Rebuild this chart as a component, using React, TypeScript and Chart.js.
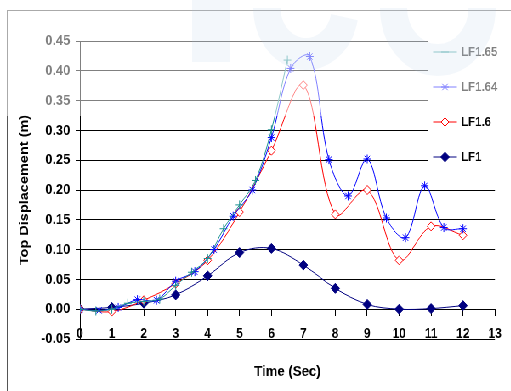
import React, { useEffect, useRef } from 'react';
import { Chart, registerables } from 'chart.js';
import { drawPoint } from 'chart.js/helpers';

Chart.register(...registerables);

// ---- data ----
const seriesNames = ['LF1.65', 'LF1.64', 'LF1.6', 'LF1'];

const timeLF165 = [0, 0.5, 1, 1.5, 2, 2.5, 3, 3.5, 4, 4.5, 5, 5.5, 6, 6.5];
const dispLF165 = [0, -0.003, 0, 0.01, 0.013, 0.017, 0.04, 0.062, 0.085, 0.135, 0.175, 0.216, 0.301, 0.418];

const timeLF164 = [0, 0.6, 1.2, 1.8, 2.4, 3, 3.6, 4.2, 4.8, 5.4, 6, 6.6, 7.2, 7.8, 8.4, 9, 9.6, 10.2, 10.8, 11.4, 12];
const dispLF164 = [0, -0.002, 0.003, 0.016, 0.015, 0.047, 0.063, 0.1, 0.156, 0.2, 0.288, 0.404, 0.424, 0.251, 0.19, 0.252, 0.153, 0.12, 0.207, 0.137, 0.135];

const timeLF16 = [0, 1, 2, 3, 4, 5, 6, 7, 8, 9, 10, 11, 12];
const dispLF16 = [0, -0.004, 0.015, 0.043, 0.082, 0.163, 0.266, 0.376, 0.159, 0.2, 0.082, 0.139, 0.124];

const timeLF1 = [0, 1, 2, 3, 4, 5, 6, 7, 8, 9, 10, 11, 12];
const dispLF1 = [0, 0.003, 0.01, 0.024, 0.056, 0.095, 0.102, 0.074, 0.035, 0.008, 0, 0.001, 0.006];

const xMin = 0;
const xMax = 13;
const xStep = 1;
const yMin = -0.05;
const yMax = 0.45;
const yStep = 0.05;

const xTitle = 'Time (Sec)';
const yTitle = 'Top Displacement (m)';

// ---- layout / style ----
const SX = 0.85; // horizontal squeeze of the original picture
const H = 391;
const W = Math.round(511 / SX);
const FONT = "'Liberation Sans', Arial, sans-serif";

const toPoints = (xs: number[], ys: number[]) => xs.map((x, i) => ({ x, y: ys[i] }));

const framePlugin = {
  id: 'frame',
  beforeDraw(chart: any) {
    const ctx = chart.ctx;
    ctx.save();
    ctx.fillStyle = '#fff';
    ctx.fillRect(0, 0, chart.width, chart.height);
    ctx.strokeStyle = '#555';
    ctx.lineWidth = 1;
    ctx.strokeRect(8.5, 10.5, chart.width + 20, chart.height + 20);
    ctx.restore();
  },
};

const overlayPlugin = {
  id: 'overlay',
  afterDraw(chart: any) {
    const ctx = chart.ctx;
    const area = chart.chartArea;
    ctx.save();
    // legend
    const boxX = 503;
    ctx.fillStyle = '#fff';
    ctx.fillRect(boxX, 33, area.right - boxX + 8, 142);
    chart.data.datasets.forEach((ds: any, i: number) => {
      const y = 52 + i * 35;
      ctx.strokeStyle = ds.borderColor;
      ctx.lineWidth = 1;
      ctx.beginPath();
      ctx.moveTo(509.5, y);
      ctx.lineTo(537.5, y);
      ctx.stroke();
      ctx.fillStyle = ds.backgroundColor;
      ctx.strokeStyle = ds.borderColor;
      drawPoint(ctx, { pointStyle: ds.pointStyle, radius: ds.pointRadius, borderWidth: 1, rotation: 0 } as any, 523.5, y);
      ctx.fillStyle = '#000';
      ctx.font = `bold 13.5px ${FONT}`;
      ctx.textBaseline = 'middle';
      ctx.textAlign = 'left';
      ctx.fillText(ds.label, 542.5, y + 0.5);
    });
    // faded top band
    ctx.fillStyle = 'rgba(255,255,255,0.5)';
    ctx.fillRect(0, 0, chart.width, 116);
    // faint watermark
    ctx.beginPath();
    ctx.rect(0, 0, chart.width, 116);
    ctx.clip();
    ctx.fillStyle = 'rgba(170,195,225,0.14)';
    ctx.strokeStyle = 'rgba(170,195,225,0.14)';
    ctx.fillRect(226, 0, 45, 62);
    ctx.lineWidth = 32;
    ctx.beginPath();
    ctx.arc(360, 8, 46, 0.2, Math.PI * 1.0);
    ctx.stroke();
    ctx.beginPath();
    ctx.arc(515, 8, 52, 0, Math.PI);
    ctx.stroke();
    ctx.restore();
  },
};

export default function App() {
  const ref = useRef<HTMLCanvasElement>(null);
  useEffect(() => {
    if (!ref.current) return;
    const chart = new Chart(ref.current, {
      type: 'line',
      data: {
        datasets: [
          {
            label: seriesNames[0],
            data: toPoints(timeLF165, dispLF165),
            borderColor: '#1a8f8f',
            backgroundColor: '#1a8f8f',
            pointStyle: 'cross',
            pointRadius: 4.5,
          },
          {
            label: seriesNames[1],
            data: toPoints(timeLF164, dispLF164),
            borderColor: '#0000ff',
            backgroundColor: '#0000ff',
            pointStyle: 'star',
            pointRadius: 4.5,
          },
          {
            label: seriesNames[2],
            data: toPoints(timeLF16, dispLF16),
            borderColor: '#ff0000',
            backgroundColor: '#ffffff',
            pointStyle: 'rectRot',
            pointRadius: 4.5,
          },
          {
            label: seriesNames[3],
            data: toPoints(timeLF1, dispLF1),
            borderColor: '#000080',
            backgroundColor: '#000080',
            pointStyle: 'rectRot',
            pointRadius: 5,
          },
        ] as any,
      },
      options: {
        responsive: false,
        animation: false,
        devicePixelRatio: 1,
        layout: { padding: { left: 0, top: 41, right: 17.5, bottom: 52 } },
        elements: {
          line: { tension: 0.35, borderWidth: 1, fill: false },
          point: { borderWidth: 1, hoverRadius: 5 },
        },
        plugins: { legend: { display: false }, tooltip: { enabled: false } },
        scales: {
          x: {
            type: 'linear',
            min: xMin,
            max: xMax,
            position: { y: 0 } as any,
            ticks: {
              stepSize: xStep,
              autoSkip: false,
              maxRotation: 0,
              color: '#000',
              padding: 11,
              font: { family: FONT, size: 14, weight: 'bold' },
            },
            grid: { drawOnChartArea: false, drawTicks: true, tickLength: 6, color: '#000' },
            border: { color: '#000', width: 1 },
            title: {
              display: true,
              text: xTitle,
              color: '#000',
              font: { family: FONT, size: 15.5, weight: 'bold' },
              padding: { top: 0, bottom: -20 },
            },
            afterFit: (s: any) => {
              s.height = 52;
            },
          },
          y: {
            type: 'linear',
            min: yMin,
            max: yMax,
            ticks: {
              stepSize: yStep,
              color: '#000',
              padding: 6.5,
              font: { family: FONT, size: 15, weight: 'bold' },
              callback: (v: any) => Number(v).toFixed(2),
            },
            grid: { color: '#000', lineWidth: 1, tickLength: 5 },
            border: { color: '#000', width: 1 },
            title: {
              display: true,
              text: yTitle,
              color: '#000',
              font: { family: FONT, size: 14.5, weight: 'bold' },
              padding: { top: 20, bottom: 0 },
            },
            afterFit: (s: any) => {
              s.width = 94;
            },
          },
        },
      } as any,
      plugins: [framePlugin, overlayPlugin],
    });
    return () => chart.destroy();
  }, []);

  return (
    <div
      style={{
        position: 'fixed',
        left: 0,
        top: 0,
        width: W,
        height: H,
        transform: `scaleX(${SX})`,
        transformOrigin: '0 0',
        background: '#fff',
      }}
    >
      <canvas ref={ref} width={W} height={H} style={{ display: 'block', width: W, height: H }} />
    </div>
  );
}
